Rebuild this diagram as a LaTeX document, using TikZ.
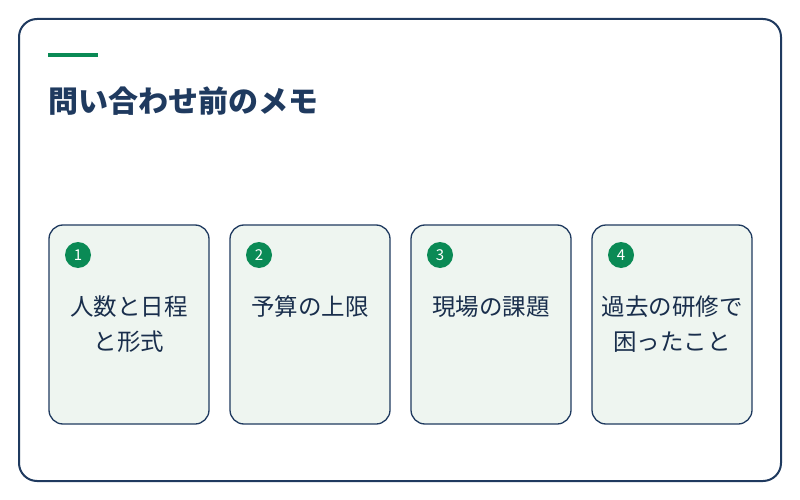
\documentclass[tikz,border=0pt]{standalone}
\usepackage{fontspec}
\newfontfamily\cjk{Noto Sans CJK JP}
\usetikzlibrary{positioning}
\definecolor{navy}{HTML}{1F3A5F}
\definecolor{memogreen}{HTML}{0A8A55}
\definecolor{cardfill}{HTML}{EEF5F0}

\begin{document}
\begin{tikzpicture}
[
  x=1pt, y=-1pt,
  card/.style={draw=navy, line width=1.3pt, fill=cardfill, rounded corners=14pt,
    minimum width=160pt, minimum height=199pt, inner sep=0pt, outer sep=0pt},
  num/.style={circle, fill=memogreen, text=white, minimum size=26pt, inner sep=0pt,
    font=\cjk\fontsize{15}{15}\selectfont},
  card text/.style={align=center, text=navy!80!black, font=\cjk\fontsize{23.5}{35}\selectfont}
]
\useasboundingbox (0,0) rectangle (800,500);
\draw [navy, line width=2pt, fill=white, rounded corners=18pt] (19,19) rectangle (781,481);
\fill [memogreen] (48,53) rectangle (98,57);
\node (title) [anchor=west, text=navy, font=\cjk\bfseries\fontsize{30}{30}\selectfont, inner sep=0pt]
  at (48,101) {問い合わせ前のメモ};

\node (c1) [card] at (129,324.5) {};
\node (c2) [card, right=21pt of c1] {};
\node (c3) [card, right=21pt of c2] {};
\node (c4) [card, right=21pt of c3] {};

\foreach \c/\n/\t in {c1/1/{人数と日程\\と形式}, c2/2/{予算の上限}, c3/3/{現場の課題}, c4/4/{過去の研修で\\困ったこと}}
{
  \node (n\n) [num] at ([xshift=29pt, yshift=-30pt]\c.north west) {\n};
  \node (t\n) [card text, anchor=north] at ([yshift=-67pt]\c.north) {\t};
}
\end{tikzpicture}
\end{document}
